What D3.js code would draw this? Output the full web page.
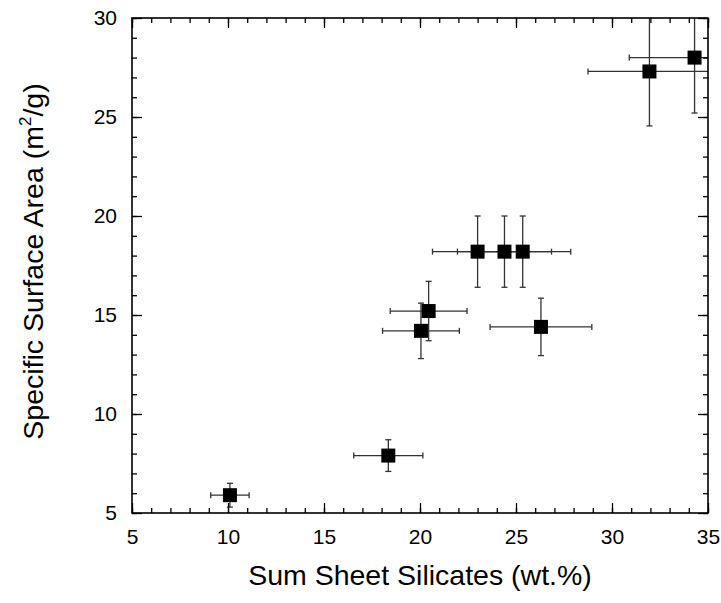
<!DOCTYPE html>
<html><head><meta charset="utf-8">
<script src="https://cdn.jsdelivr.net/npm/d3@7"></script>
<style>body{margin:0;background:#fff;}text{font-family:"Liberation Sans",Arial,sans-serif;fill:#000;}</style>
</head><body><svg id="c" width="721" height="603"></svg>
<script>
const sheetSilicates = [10.1, 18.35, 20.05, 20.45, 23.0, 24.4, 25.35, 26.3, 31.95, 34.3];
const surfaceArea    = [5.9, 7.9, 14.2, 15.2, 18.2, 18.2, 18.2, 14.4, 27.3, 28.0];
const xError         = [1.0, 1.8, 2.0, 2.0, 2.35, 2.45, 2.5, 2.65, 3.2, 3.4];
const yError         = [0.6, 0.8, 1.4, 1.5, 1.8, 1.8, 1.8, 1.45, 2.75, 2.8];
const xTicks = [5, 10, 15, 20, 25, 30, 35];
const yTicks = [5, 10, 15, 20, 25, 30];
const xLabel = "Sum Sheet Silicates (wt.%)";

const svg = d3.select("#c");
const L = 132, R = 708, T = 18, B = 513;
const x = d3.scaleLinear().domain([5, 35]).range([L, R]);
const y = d3.scaleLinear().domain([5, 30]).range([B, T]);

const data = sheetSilicates.map((v, i) => ({x: v, y: surfaceArea[i], ex: xError[i], ey: yError[i]}));

svg.append("clipPath").attr("id", "clip").append("rect")
  .attr("x", L).attr("y", T).attr("width", R - L).attr("height", B - T);

const g = svg.append("g").attr("clip-path", "url(#clip)");
const cap = 3;
data.forEach(d => {
  const eg = g.append("g").attr("stroke", "#333").attr("stroke-width", 1.3).attr("fill", "none");
  eg.append("line").attr("x1", x(d.x - d.ex)).attr("x2", x(d.x + d.ex)).attr("y1", y(d.y)).attr("y2", y(d.y));
  eg.append("line").attr("x1", x(d.x - d.ex)).attr("x2", x(d.x - d.ex)).attr("y1", y(d.y) - cap).attr("y2", y(d.y) + cap);
  eg.append("line").attr("x1", x(d.x + d.ex)).attr("x2", x(d.x + d.ex)).attr("y1", y(d.y) - cap).attr("y2", y(d.y) + cap);
  eg.append("line").attr("x1", x(d.x)).attr("x2", x(d.x)).attr("y1", y(d.y - d.ey)).attr("y2", y(d.y + d.ey));
  eg.append("line").attr("x1", x(d.x) - cap).attr("x2", x(d.x) + cap).attr("y1", y(d.y - d.ey)).attr("y2", y(d.y - d.ey));
  eg.append("line").attr("x1", x(d.x) - cap).attr("x2", x(d.x) + cap).attr("y1", y(d.y + d.ey)).attr("y2", y(d.y + d.ey));
});
const S = 14;
svg.append("g").selectAll("rect").data(data).join("rect")
  .attr("x", d => x(d.x) - S / 2).attr("y", d => y(d.y) - S / 2)
  .attr("width", S).attr("height", S).attr("fill", "#000");

// axes with inward ticks
const minorX = d3.range(5, 36, 1), minorY = d3.range(5, 31, 1);
function tickAxis(axisFn, scale, pos, minor, major, ticksOut) {
  const a = svg.append("g").attr("transform", pos);
  a.call(axisFn(scale).tickValues(minor).tickSize(-5).tickFormat(""));
  a.select(".domain").remove();
  const b = svg.append("g").attr("transform", pos);
  b.call(axisFn(scale).tickValues(major).tickSize(-10).tickPadding(ticksOut ? 15 : 0).tickFormat(ticksOut ? d3.format("d") : ""));
  b.select(".domain").remove();
  [a, b].forEach(s => s.selectAll("line").attr("stroke", "#000").attr("stroke-width", 1.3));
  return b;
}
const bx = tickAxis(d3.axisBottom, x, `translate(0,${B})`, minorX, xTicks, true);
bx.selectAll("text").attr("font-size", 21).attr("dy", "0.71em").attr("y", 16);
tickAxis(d3.axisTop, x, `translate(0,${T})`, minorX, xTicks, false);
const by = tickAxis(d3.axisLeft, y, `translate(${L},0)`, minorY, yTicks, true);
by.selectAll("text").attr("font-size", 21).attr("x", -15);
tickAxis(d3.axisRight, y, `translate(${R},0)`, minorY, yTicks, false);
svg.selectAll(".tick text").attr("font-family", "Liberation Sans, Arial, sans-serif").attr("fill", "#000");

svg.append("rect").attr("x", L).attr("y", T).attr("width", R - L).attr("height", B - T)
  .attr("fill", "none").attr("stroke", "#000").attr("stroke-width", 1.6);

svg.append("text").attr("x", (L + R) / 2).attr("y", 585).attr("text-anchor", "middle")
  .attr("font-size", 28.5).text(xLabel);
const yt = svg.append("text").attr("transform", `translate(43,${(T + B) / 2 - 4}) rotate(-90)`)
  .attr("text-anchor", "middle").attr("font-size", 28.5);
yt.append("tspan").text("Specific Surface Area (m");
yt.append("tspan").attr("font-size", 17).attr("dy", -12).text("2");
yt.append("tspan").attr("dy", 12).text("/g)");
</script></body></html>
